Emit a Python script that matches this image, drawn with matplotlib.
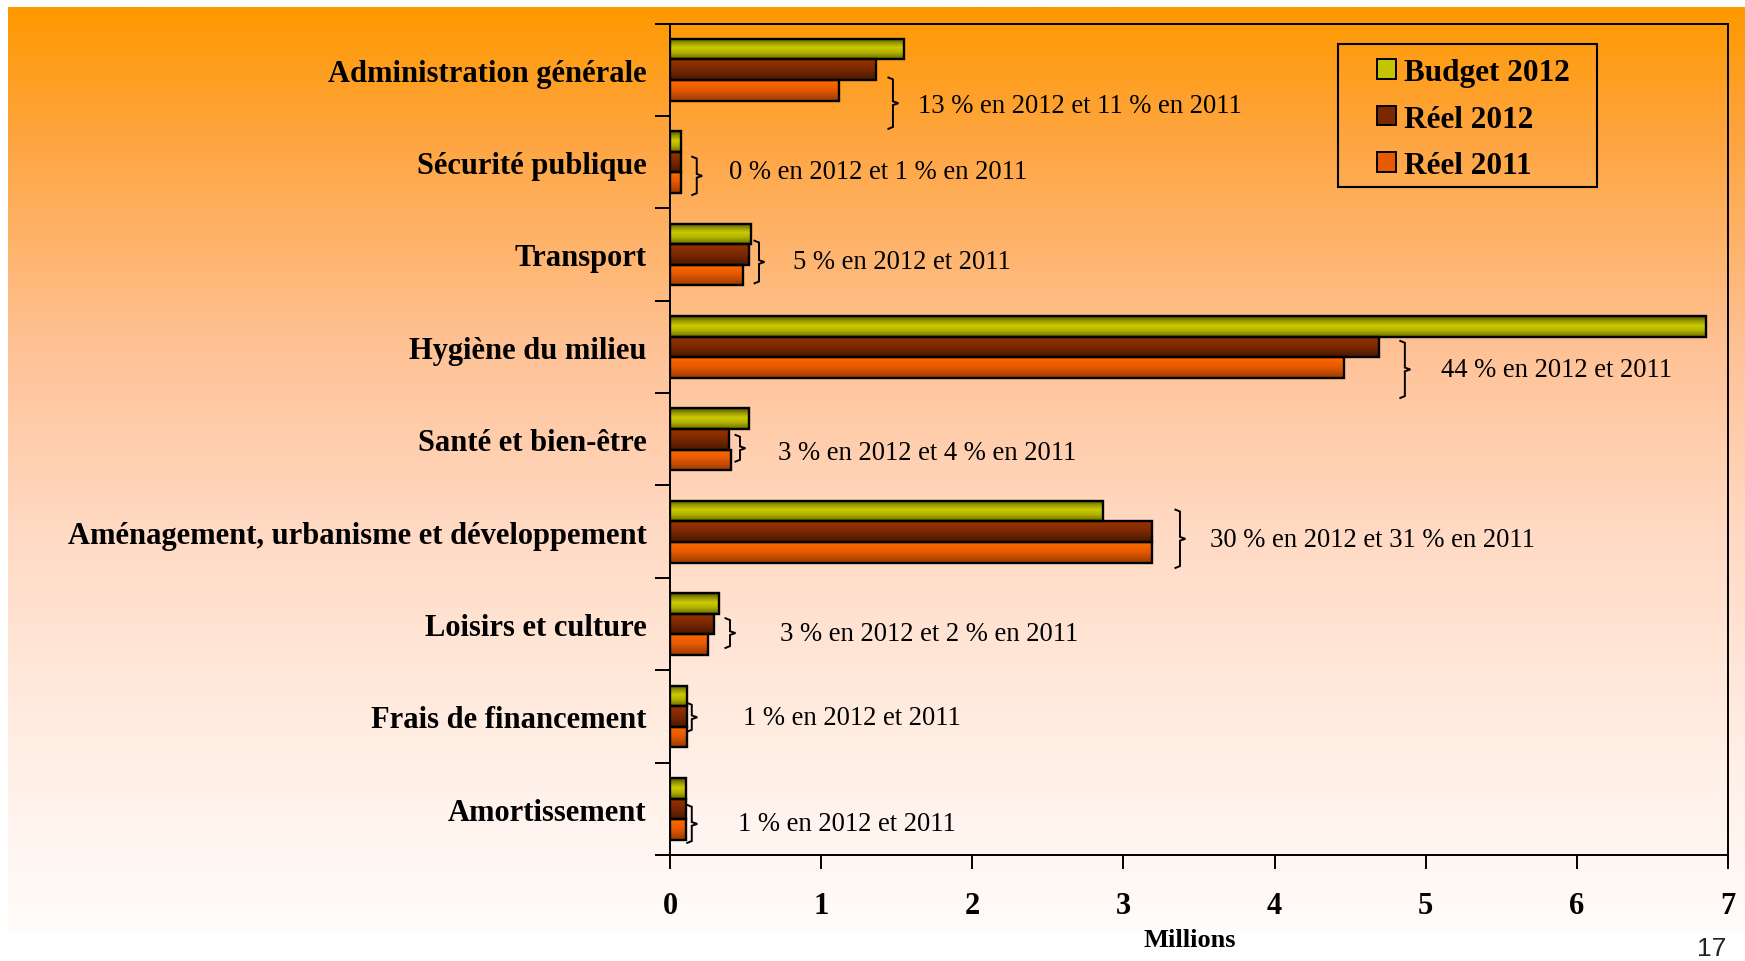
import numpy as np
import matplotlib
matplotlib.use("Agg")
import matplotlib.pyplot as plt
from matplotlib.patches import Patch, Rectangle
from matplotlib.colors import LinearSegmentedColormap

# ---------------- data ----------------
categories = ["Administration générale", "Sécurité publique", "Transport",
              "Hygiène du milieu", "Santé et bien-être",
              "Aménagement, urbanisme et développement", "Loisirs et culture",
              "Frais de financement", "Amortissement"]
budget_2012 = [1.546, 0.071, 0.534, 6.856, 0.520, 2.868, 0.326, 0.115, 0.104]
reel_2012 = [1.363, 0.071, 0.523, 4.690, 0.390, 3.190, 0.289, 0.115, 0.104]
reel_2011 = [1.118, 0.071, 0.483, 4.460, 0.404, 3.190, 0.249, 0.115, 0.104]
series_names = ["Budget 2012", "Réel 2012", "Réel 2011"]
notes = ["13 % en 2012 et 11 % en 2011", "0 % en 2012 et 1 % en 2011",
         "5 % en 2012 et 2011", "44 % en 2012 et 2011",
         "3 % en 2012 et 4 % en 2011", "30 % en 2012 et 31 % en 2011",
         "3 % en 2012 et 2 % en 2011", "1 % en 2012 et 2011",
         "1 % en 2012 et 2011"]
# annotation placement (data units)
bracket_x = [1.475, 0.177, 0.589, 4.862, 0.463, 3.374, 0.397, 0.144, 0.144]
bracket_top = [0.085, 0.942, 1.851, 2.936, 3.953, 4.762, 5.937, 6.854, 7.958]
bracket_bot = [0.640, 1.356, 2.312, 3.553, 4.242, 5.393, 6.259, 7.165, 8.369]
note_x = [1.641, 0.389, 0.817, 5.101, 0.714, 3.573, 0.728, 0.481, 0.450]
note_y = [0.39, 1.10, 2.08, 3.25, 4.14, 5.08, 6.10, 7.01, 8.16]
x_ticks = [0, 1, 2, 3, 4, 5, 6, 7]

W, H = 1745, 962
fig = plt.figure(figsize=(W / 100, H / 100), dpi=100)
fig.patch.set_facecolor("white")

SERIF = ["Liberation Serif", "DejaVu Serif"]

# ---------------- background gradient ----------------
bg = fig.add_axes([8 / W, 1 - 933 / H, 1 - 8 / W, (933 - 8) / H], zorder=-10)
stops = [(0.0, (255, 153, 0)), (0.14, (254, 165, 64)), (0.37, (255, 194, 150)),
         (0.57, (255, 218, 196)), (0.80, (255, 238, 228)), (1.0, (255, 252, 250))]
bg_cmap = LinearSegmentedColormap.from_list(
    "bg", [(p, tuple(c / 255 for c in col)) for p, col in stops])
bg.imshow(np.linspace(0, 1, 400).reshape(-1, 1), cmap=bg_cmap, aspect="auto",
          extent=(0, 1, 1, 0), origin="upper")
bg.set_axis_off()

# ---------------- main axes ----------------
ax = fig.add_axes([670 / W, 1 - 856 / H, (1728 - 670) / W, (856 - 24.5) / H])
ax.set_facecolor("none")

h = 0.223
y = np.arange(len(categories))
grad_specs = [
    [(0.0, "#4a4a00"), (0.18, "#8c8c00"), (0.45, "#cccc00"), (0.7, "#b0b000"), (1.0, "#6a6a00")],
    [(0.0, "#9a3400"), (0.5, "#7a2800"), (1.0, "#4a1800")],
    [(0.0, "#ff6a00"), (0.45, "#e85a00"), (1.0, "#9a3c00")],
]
flat_cols = ["#c4c400", "#7a2800", "#e85a00"]
all_vals = [budget_2012, reel_2012, reel_2011]

for k, (vals, spec) in enumerate(zip(all_vals, grad_specs)):
    cmap = LinearSegmentedColormap.from_list(f"g{k}", spec)
    offs = (k - 1) * h
    bars = ax.barh(y + offs, vals, height=h, facecolor="none",
                   edgecolor="black", linewidth=1.7, zorder=3)
    grad = np.linspace(0, 1, 64).reshape(-1, 1)
    for b in bars:
        x0, y0 = b.get_x(), b.get_y()
        w, hh = b.get_width(), b.get_height()
        im = ax.imshow(grad, cmap=cmap, aspect="auto", origin="upper",
                       extent=(x0, x0 + w, y0 + hh, y0), zorder=2,
                       interpolation="bilinear")
        im.set_clip_path(b)

ax.set_xlim(0, 7)
ax.set_ylim(len(categories) - 0.5, -0.5)

# brackets and notes
for bx, yt, yb, tx, ty, txt in zip(bracket_x, bracket_top, bracket_bot,
                                    note_x, note_y, notes):
    ym = (yt + yb) / 2
    dx = 0.03
    e = 0.02
    xs = [bx - dx, bx, bx, bx + dx * 1.2, bx, bx, bx - dx]
    ys = [yt, yt + e, ym - e, ym, ym + e, yb - e, yb]
    ax.plot(xs, ys, color="black", lw=1.4, zorder=4, solid_joinstyle="miter")
    ax.text(tx, ty, txt, va="center", ha="left", fontsize=19.2,
            family=SERIF, color="black", zorder=5)

# ticks / spines
for s in ax.spines.values():
    s.set_linewidth(1.4)
    s.set_color("black")
ax.set_xticks(x_ticks)
ax.set_xticklabels([str(t) for t in x_ticks], fontsize=22,
                   fontweight="bold", family=SERIF)
ax.tick_params(axis="x", direction="out", length=10, width=1.4, pad=16)
ax.set_yticks(y)
ax.set_yticklabels(categories, fontsize=22, fontweight="bold", family=SERIF)
ax.tick_params(axis="y", which="major", length=0, pad=17)
ax.set_yticks(np.arange(-0.5, len(categories), 1.0), minor=True)
ax.tick_params(axis="y", which="minor", direction="out", length=11, width=1.4)

fig.text(1190 / W, 1 - 941 / H, "Millions", ha="center", va="center",
         fontsize=19, fontweight="bold", family=SERIF)

# legend
handles = [Patch(facecolor=c, edgecolor="black", linewidth=1.4) for c in flat_cols]
leg = ax.legend(handles, series_names, loc="upper left",
                bbox_to_anchor=(1377 / W, 1 - 59 / H),
                bbox_transform=fig.transFigure, borderaxespad=0,
                prop={"family": SERIF, "weight": "bold", "size": 22.5},
                frameon=False, handlelength=0.6,
                handleheight=0.6, handletextpad=0.28, labelspacing=0.56,
                borderpad=0)
fig.add_artist(Rectangle((1338 / W, 1 - 188 / H), (1597 - 1338) / W,
                         (188 - 44.5) / H, transform=fig.transFigure,
                         fill=False, edgecolor="black", linewidth=1.5))

# page number
fig.text(1712 / W, 1 - 949 / H, "17", ha="center", va="center",
         fontsize=19, family=["Liberation Sans", "DejaVu Sans"], color="#222222")

fig.savefig("out.png", dpi=100)
